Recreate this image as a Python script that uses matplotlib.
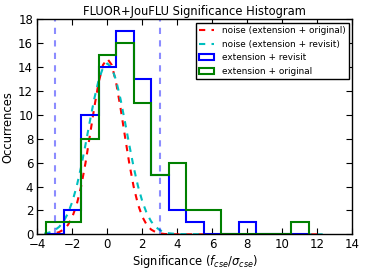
import numpy as np
import matplotlib.pyplot as plt
from matplotlib.patches import Rectangle

# ------------------------------- data -------------------------------

bin_edges = [-3.5, -2.5, -1.5, -0.5, 0.5, 1.5, 2.5, 3.5, 4.5, 5.5, 6.5, 7.5, 8.5, 9.5, 10.5, 11.5]
bin_centers = [-3, -2, -1, 0, 1, 2, 3, 4, 5, 6, 7, 8, 9, 10, 11]
counts_revisit = [0, 2, 10, 14, 17, 13, 5, 2, 1, 0, 0, 1, 0, 0, 0]
counts_original = [1, 1, 8, 15, 16, 11, 5, 6, 2, 2, 0, 0, 0, 0, 1]

noise_x = [-3.6, -3.5, -3.25, -3.0, -2.75, -2.5, -2.25, -2.0, -1.75, -1.5, -1.25, -1.0,
           -0.75, -0.5, -0.25, 0.0, 0.25, 0.5, 0.75, 1.0, 1.25, 1.5, 1.75, 2.0,
           2.25, 2.5, 2.75, 3.0, 3.25, 3.5, 4.0, 6.0, 8.0, 10.0, 12.3]
noise_original = [0.0, 0.01, 0.03, 0.08, 0.19, 0.40, 0.79, 1.46, 2.50, 4.0, 5.96, 8.25,
                  10.6, 12.7, 14.18, 14.7, 14.18, 12.7, 10.6, 8.25, 5.96, 4.0, 2.50, 1.46,
                  0.79, 0.40, 0.19, 0.08, 0.03, 0.01, 0.0, 0.0, 0.0, 0.0, 0.0]
noise_revisit = [0.06, 0.09, 0.18, 0.35, 0.63, 1.08, 1.76, 2.74, 4.03, 5.64, 7.5, 9.46,
                 11.33, 12.9, 13.94, 14.3, 13.94, 12.9, 11.33, 9.46, 7.5, 5.64, 4.03, 2.74,
                 1.76, 1.08, 0.63, 0.35, 0.18, 0.09, 0.02, 0.0, 0.0, 0.0, 0.0]

cut_lines = [-3, 3]

# ------------------------------------- plot -------------------------------------

plt.rcParams['font.family'] = 'DejaVu Sans'
fig = plt.figure(figsize=(3.66, 2.76), dpi=100)
ax = fig.add_axes([0.102, 0.151, 0.861, 0.779])

ax.plot(noise_x, noise_original, 'r--', lw=1.5, dashes=(3, 3), label='noise (extension + original)')
ax.plot(noise_x, noise_revisit, 'c--', lw=1.5, dashes=(3, 3), label='noise (extension + revisit)')
_, _, p_rev = ax.hist(bin_centers, bins=bin_edges, weights=counts_revisit, histtype='step',
                      color='b', lw=1.5, label='extension + revisit')
_, _, p_org = ax.hist(bin_centers, bins=bin_edges, weights=counts_original, histtype='step',
                      color='g', lw=1.5, label='extension + original')

# keep the zero-count baseline of the step outlines hidden under the spine
clip = Rectangle((0, 0.0035), 1, 1, transform=ax.transAxes)
for p in list(p_rev) + list(p_org):
    p.set_clip_path(clip)

for xc in cut_lines:
    ax.axvline(xc, color='b', ls='--', dashes=(3, 3), lw=1.5, alpha=0.45)

ax.set_xlim(-4, 14)
ax.set_ylim(0, 18)
ax.set_xticks(range(-4, 15, 2))
ax.set_yticks(range(0, 19, 2))
ax.tick_params(direction='in', top=True, right=True, labelsize=8.5, length=4, pad=3)
for sp in ax.spines.values():
    sp.set_linewidth(1.0)
    sp.set_zorder(5)

ax.set_title('FLUOR+JouFLU Significance Histogram', fontsize=8.3, pad=3)
ax.set_xlabel(r'Significance ($f_{cse}/\sigma_{cse}$)', fontsize=8.3, labelpad=1)
ax.set_ylabel('Occurrences', fontsize=8.3, labelpad=3)

leg = ax.legend(loc='upper right', fontsize=6.4, fancybox=False, framealpha=1,
                borderaxespad=0.4, handlelength=1.7)
leg.get_frame().set_edgecolor('black')

fig.savefig('out.png', dpi=100)
